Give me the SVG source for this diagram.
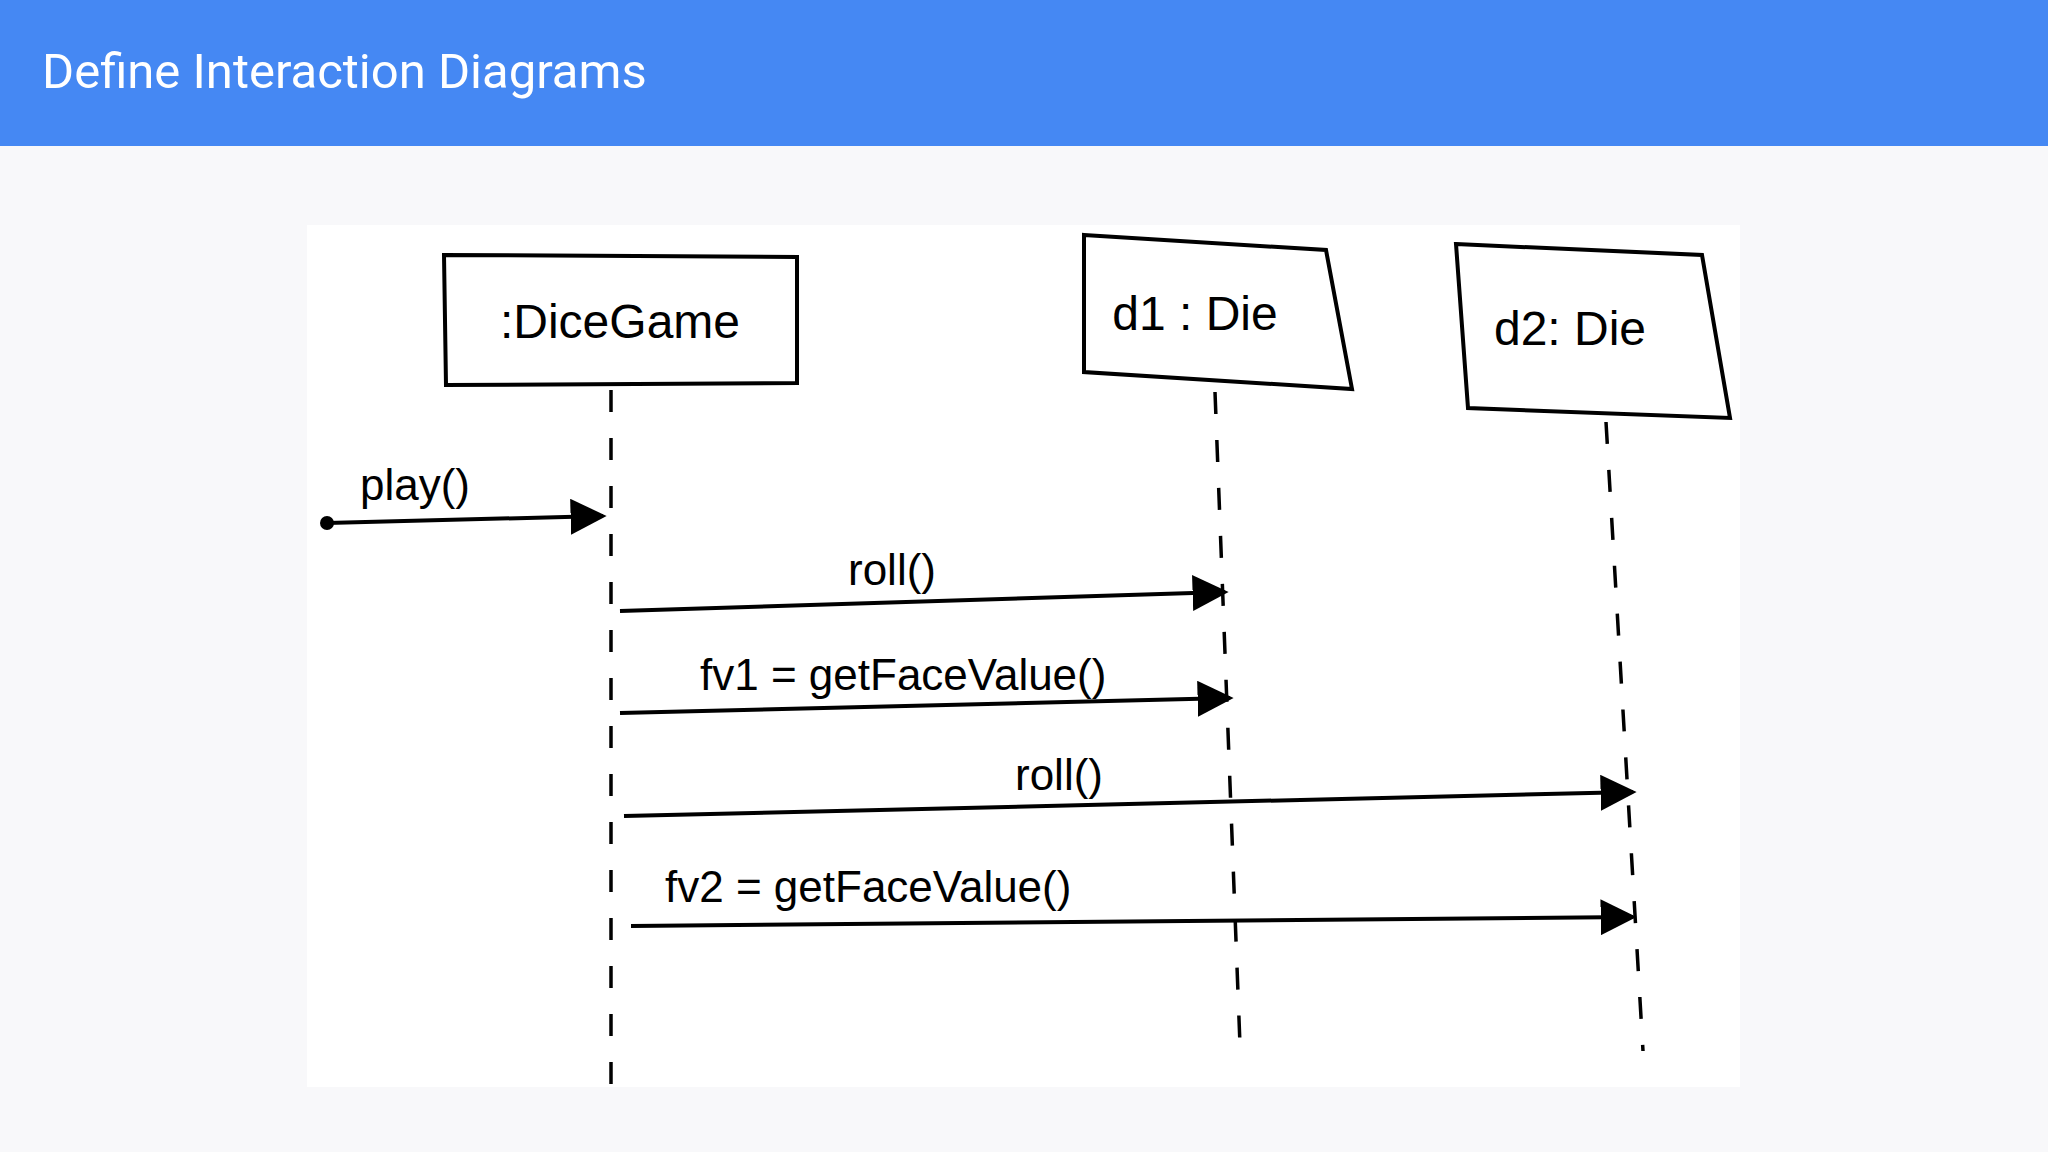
<svg xmlns="http://www.w3.org/2000/svg" width="2048" height="1152" viewBox="0 0 2048 1152">
<style>
.box{fill:#fff;stroke:#000;stroke-width:4}
.life{stroke:#000;stroke-width:3.5;stroke-dasharray:22 26;fill:none}
.msg{stroke:#000;stroke-width:4;fill:none}
.t{font-family:"Liberation Sans",Arial,sans-serif;fill:#000}
.lbl{font-size:48px}
.ml{font-size:44px}
</style>
<defs>
<marker id="ahb" viewBox="0 0 10 10" refX="9" refY="5" markerWidth="9" markerHeight="9" orient="auto">
<path d="M0,0 L10,5 L0,10 z" fill="#000"/>
</marker>
</defs>
<rect width="2048" height="1152" fill="#f8f8fa"/>
<rect width="2048" height="146" fill="#4588f3"/>
<text x="42" y="88" style="fill:#fff;font-size:49px;font-family:Roboto,'Liberation Sans',sans-serif">Define Interaction Diagrams</text>
<rect x="307" y="225" width="1433" height="862" fill="#fff"/>
<g id="connectors">
<path class="life" d="M611,390 L611,1084"/>
<path class="life" d="M1215,392 L1240,1045"/>
<path class="life" d="M1606,422 L1643,1051"/>
<circle cx="327" cy="523" r="7" fill="#000"/>
<path class="msg" marker-end="url(#ahb)" d="M327,523 L603,516"/>
<path class="msg" marker-end="url(#ahb)" d="M620,611 L1225,592"/>
<path class="msg" marker-end="url(#ahb)" d="M620,713 L1230,698"/>
<path class="msg" marker-end="url(#ahb)" d="M624,816 L1633,792"/>
<path class="msg" marker-end="url(#ahb)" d="M631,926 L1633,917"/>
<text x="360" y="500" class="t ml">play()</text>
<text x="848" y="585" class="t ml">roll()</text>
<text x="700" y="690" class="t ml">fv1 = getFaceValue()</text>
<text x="1015" y="790" class="t ml">roll()</text>
<text x="665" y="902" class="t ml">fv2 = getFaceValue()</text>
</g>
<g id="dicegame">
<path class="box" d="M444,255 L797,257 L797,383 L446,385 z"/>
<text x="620" y="338" class="t lbl" text-anchor="middle">:DiceGame</text>
</g>
<g id="d1">
<path class="box" d="M1084,235 L1326,250 L1352,389 L1084,372 z"/>
<text x="1195" y="330" class="t lbl" text-anchor="middle">d1 : Die</text>
</g>
<g id="d2">
<path class="box" d="M1456,244 L1702,255 L1730,418 L1468,408 z"/>
<text x="1570" y="345" class="t lbl" text-anchor="middle">d2: Die</text>
</g>
</svg>
